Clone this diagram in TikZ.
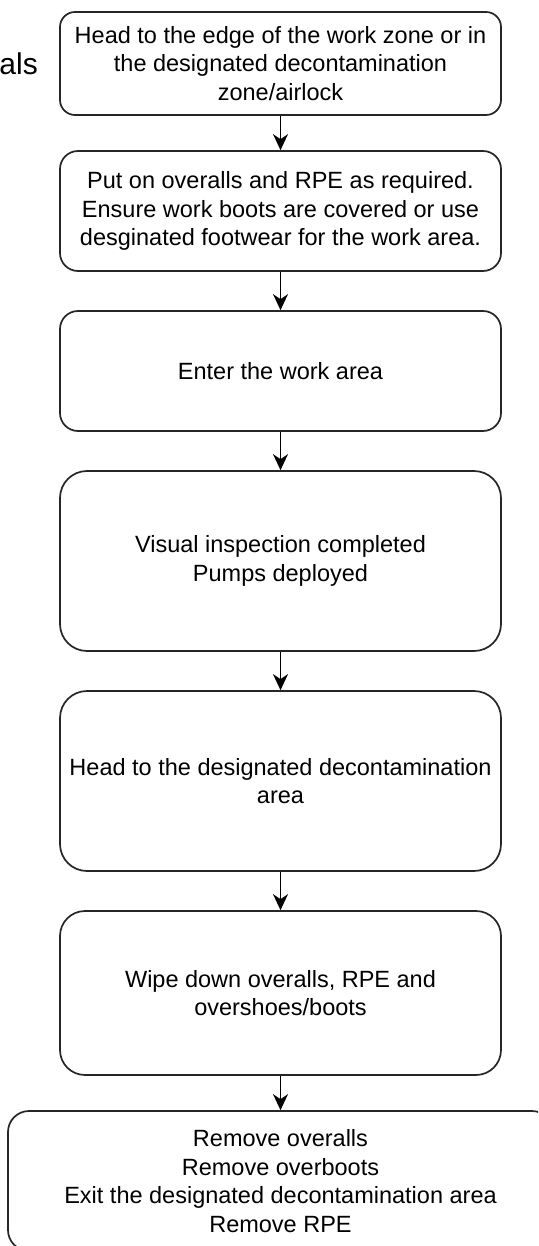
\documentclass[tikz,border=0pt]{standalone}
\usepackage{fontspec}
\setmainfont{Liberation Sans}
\usetikzlibrary{arrows.meta}
\begin{document}
\begin{tikzpicture}[x=1pt,y=-1pt,
  stepbox/.style={draw=black!85, line width=1.7pt, fill=white, align=center,
    font=\fontsize{23.5}{28.5}\selectfont, inner sep=0pt, minimum width=441pt},
  flow/.style={draw=black, line width=1.7pt, -{Stealth[length=16pt,width=15pt,inset=5pt]}}]
\useasboundingbox (0,0) rectangle (538,1246);
\clip (0,0) rectangle (538,1246);
\fill[white] (0,0) rectangle (538,1246);

\node[font=\fontsize{30}{36}\selectfont, anchor=base east, inner sep=0pt] (lbl) at (38,75) {als};

\node[stepbox, minimum height=103pt, rounded corners=15pt] (b1) at (280.5,63.5)
  {Head to the edge of the work zone or in\\the designated decontamination\\zone/airlock};
\node[stepbox, minimum height=120pt, rounded corners=18pt] (b2) at (280.5,211)
  {Put on overalls and RPE as required.\\Ensure work boots are covered or use\\desginated footwear for the work area.};
\node[stepbox, minimum height=120pt, rounded corners=18pt] (b3) at (280.5,371)
  {Enter the work area};
\node[stepbox, minimum height=180pt, rounded corners=27pt] (b4) at (280.5,561)
  {Visual inspection completed\\Pumps deployed};
\node[stepbox, minimum height=180pt, rounded corners=27pt] (b5) at (280.5,781)
  {Head to the designated decontamination\\area};
\node[stepbox, minimum height=164pt, rounded corners=25pt] (b6) at (280.5,993)
  {Wipe down overalls, RPE and\\overshoes/boots};
\node[stepbox, minimum height=140pt, minimum width=545pt, rounded corners=21pt] (b7) at (280.5,1181)
  {Remove overalls\\Remove overboots\\Exit the designated decontamination area\\Remove RPE};

\draw[flow] (b1.south) -- (b2.north);
\draw[flow] (b2.south) -- (b3.north);
\draw[flow] (b3.south) -- (b4.north);
\draw[flow] (b4.south) -- (b5.north);
\draw[flow] (b5.south) -- (b6.north);
\draw[flow] (b6.south) -- (b7.north);
\end{tikzpicture}
\end{document}
